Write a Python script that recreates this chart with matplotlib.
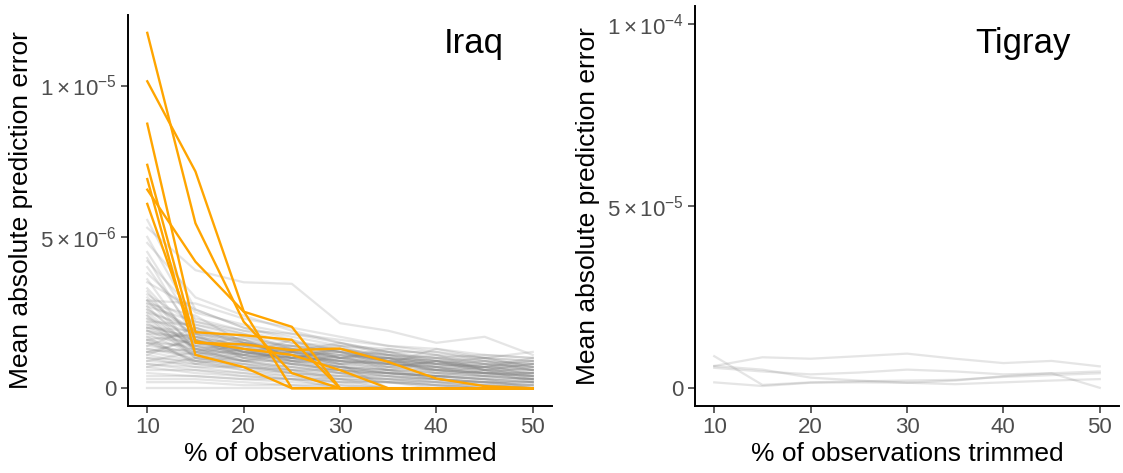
import numpy as np
import matplotlib
matplotlib.use("Agg")
import matplotlib.pyplot as plt

plt.rcParams['font.family'] = ['Liberation Sans', 'DejaVu Sans']
plt.rcParams['mathtext.fontset'] = 'custom'
plt.rcParams['mathtext.rm'] = 'Liberation Sans'
plt.rcParams['mathtext.it'] = 'Liberation Sans:italic'

# % of observations trimmed
trim = [10, 15, 20, 25, 30, 35, 40, 45, 50]

# Iraq, grey lines (units of 1e-6)
iraq_grey = [
    [5.56, 2.6, 2.0, 1.6, 1.2, 0.9, 0.6, 0.4, 0.3],
    [5.3, 3.9, 3.5, 3.45, 2.15, 1.9, 1.5, 1.7, 1.1],
    [5.0, 2.2, 1.8, 1.3, 1.0, 0.8, 0.7, 0.5, 0.5],
    [4.8, 3.0, 2.4, 1.9, 1.5, 1.2, 0.9, 0.6, 0.4],
    [4.5, 2.0, 1.5, 1.2, 0.9, 0.6, 0.3, 0.1, 0.0],
    [4.2, 2.5, 2.1, 1.8, 1.6, 1.4, 1.2, 1.0, 0.9],
    [4.0, 1.8, 1.3, 0.9, 0.5, 0.2, 0.0, 0.0, 0.0],
    [3.8, 2.3, 1.9, 1.5, 1.3, 1.1, 1.0, 0.8, 0.7],
    [3.5, 2.6, 2.0, 1.7, 1.4, 1.3, 1.1, 1.0, 1.2],
    [3.3, 1.6, 1.1, 0.8, 0.6, 0.4, 0.3, 0.2, 0.1],
    [3.1, 2.1, 1.7, 1.4, 1.2, 1.0, 0.9, 0.7, 0.6],
    [2.9, 2.8, 2.3, 2.0, 1.7, 1.4, 1.3, 1.1, 1.0],
    [2.9, 1.9, 1.6, 1.2, 1.0, 0.7, 0.5, 0.4, 0.3],
    [2.8, 2.4, 1.5, 1.1, 0.8, 0.0, 0.0, 0.0, 0.0],
    [2.7, 2.2, 1.9, 1.8, 1.5, 1.2, 1.2, 0.9, 0.8],
    [2.6, 1.5, 1.2, 1.0, 0.7, 0.6, 0.4, 0.3, 0.0],
    [2.5, 2.0, 1.4, 1.3, 1.1, 1.0, 0.8, 0.7, 0.9],
    [2.4, 1.3, 0.9, 0.6, 0.3, 0.0, 0.0, 0.0, 0.0],
    [2.3, 1.8, 1.6, 1.4, 1.3, 1.1, 0.9, 0.8, 0.7],
    [2.2, 2.1, 1.8, 1.5, 1.4, 1.2, 1.0, 1.1, 1.0],
    [2.1, 1.6, 1.3, 1.1, 0.9, 0.8, 0.6, 0.5, 0.4],
    [2.0, 1.4, 1.0, 0.8, 0.6, 0.5, 0.3, 0.2, 0.0],
    [2.0, 1.9, 1.5, 1.3, 1.2, 0.9, 0.8, 0.6, 0.5],
    [1.9, 1.2, 0.9, 0.7, 0.5, 0.3, 0.2, 0.0, 0.0],
    [1.8, 1.7, 1.4, 1.2, 1.0, 1.0, 0.9, 0.7, 0.6],
    [1.8, 1.1, 0.8, 0.5, 0.0, 0.0, 0.0, 0.0, 0.0],
    [1.7, 1.5, 1.3, 1.2, 1.1, 0.9, 0.7, 0.6, 0.8],
    [1.6, 1.3, 1.1, 0.9, 0.8, 0.6, 0.5, 0.4, 0.3],
    [1.5, 1.4, 1.2, 1.0, 0.9, 0.8, 0.7, 0.8, 0.6],
    [1.5, 0.9, 0.6, 0.4, 0.2, 0.0, 0.0, 0.0, 0.0],
    [1.4, 1.2, 1.0, 0.8, 0.7, 0.5, 0.4, 0.3, 0.2],
    [1.3, 1.0, 0.8, 0.7, 0.6, 0.5, 0.4, 0.3, 0.3],
    [1.3, 1.1, 0.9, 0.9, 0.7, 0.6, 0.6, 0.5, 0.4],
    [1.2, 0.9, 0.7, 0.6, 0.4, 0.3, 0.1, 0.0, 0.0],
    [1.2, 1.3, 1.1, 1.0, 0.9, 0.7, 0.6, 0.5, 0.5],
    [1.1, 0.8, 0.6, 0.5, 0.4, 0.3, 0.3, 0.2, 0.1],
    [1.0, 0.9, 0.8, 0.6, 0.5, 0.5, 0.4, 0.3, 0.2],
    [1.0, 0.7, 0.5, 0.3, 0.0, 0.0, 0.0, 0.0, 0.0],
    [0.9, 0.8, 0.7, 0.6, 0.6, 0.5, 0.4, 0.4, 0.3],
    [0.8, 0.6, 0.4, 0.3, 0.2, 0.2, 0.1, 0.0, 0.0],
    [0.8, 0.7, 0.7, 0.5, 0.4, 0.4, 0.3, 0.2, 0.2],
    [0.7, 0.5, 0.4, 0.3, 0.3, 0.2, 0.2, 0.1, 0.1],
    [0.6, 0.6, 0.5, 0.4, 0.3, 0.3, 0.2, 0.2, 0.1],
    [0.5, 0.4, 0.3, 0.2, 0.1, 0.0, 0.0, 0.0, 0.0],
    [0.4, 0.4, 0.3, 0.3, 0.2, 0.2, 0.1, 0.1, 0.0],
    [0.3, 0.3, 0.2, 0.1, 0.0, 0.0, 0.0, 0.0, 0.0],
    [0.2, 0.2, 0.1, 0.1, 0.1, 0.0, 0.0, 0.0, 0.0],
    [0.0, 0.0, 0.0, 0.0, 0.0, 0.0, 0.0, 0.0, 0.0],
    [3.6, 1.4, 1.1, 0.8, 0.6, 0.4, 0.2, 0.1, 0.0],
    [2.7, 1.2, 0.9, 0.7, 0.5, 0.4, 0.3, 0.2, 0.2],
    [3.0, 1.7, 1.4, 1.1, 0.9, 0.8, 0.6, 0.5, 0.4],
    [4.3, 1.6, 1.2, 1.0, 0.7, 0.5, 0.4, 0.3, 0.2],
    [2.2, 1.0, 0.7, 0.5, 0.3, 0.2, 0.1, 0.0, 0.0],
    [1.6, 1.8, 1.5, 1.4, 1.2, 1.1, 1.0, 0.9, 0.8],
    [1.9, 1.6, 1.2, 0.9, 0.7, 0.6, 0.5, 0.5, 0.4],
    [2.9, 1.3, 1.5, 1.1, 1.3, 0.9, 0.8, 1.0, 0.7],
    [1.1, 1.7, 1.2, 1.4, 1.0, 1.1, 0.7, 0.9, 0.6],
    [2.4, 1.0, 1.3, 0.8, 1.1, 0.6, 0.9, 0.5, 0.7],
    [1.4, 2.0, 1.6, 1.0, 1.2, 0.8, 1.0, 0.6, 0.8],
    [3.2, 1.2, 1.6, 1.0, 1.3, 1.0, 0.5, 0.7, 0.3],
    [1.7, 0.8, 1.1, 1.3, 0.8, 0.9, 1.1, 0.6, 0.5],
    [2.6, 1.8, 1.0, 1.2, 1.5, 1.1, 0.8, 0.7, 1.0],
    [0.9, 1.2, 1.4, 0.9, 1.0, 1.2, 0.8, 0.9, 0.6],
    [2.1, 1.5, 1.1, 1.6, 1.0, 0.8, 1.3, 1.0, 0.9],
    [1.2, 1.6, 1.0, 1.2, 1.4, 0.9, 0.6, 0.8, 0.4],
    [2.3, 1.1, 1.3, 1.1, 0.8, 1.0, 0.7, 0.4, 0.5],
    [1.9, 1.4, 1.7, 1.3, 1.0, 1.3, 1.1, 0.8, 0.9],
    [2.8, 1.9, 1.3, 1.0, 1.2, 0.7, 0.9, 1.0, 0.7],
    [1.5, 1.1, 1.5, 1.2, 0.9, 1.0, 0.8, 0.7, 0.5],
    [0.7, 1.0, 0.9, 1.1, 0.8, 0.7, 0.9, 0.6, 0.6],
    [2.0, 1.7, 1.2, 0.9, 1.1, 1.0, 0.6, 0.7, 0.8],
    [1.6, 0.9, 1.2, 1.0, 1.3, 0.8, 0.7, 0.5, 0.3],
    [2.5, 1.3, 0.9, 1.2, 0.7, 0.5, 0.4, 0.6, 0.2],
]

# Iraq, highlighted lines (units of 1e-6)
iraq_orange = [
    [11.74, 5.45, 2.2, 0.5, 0.0, 0.0, 0.0, 0.0, 0.0],
    [10.14, 7.16, 2.55, 0.0, 0.0, 0.0, 0.0, 0.0, 0.0],
    [8.74, 1.85, 1.75, 1.6, 0.0, 0.0, 0.0, 0.0, 0.0],
    [7.38, 1.5, 1.45, 1.26, 1.31, 0.87, 0.32, 0.07, 0.0],
    [6.91, 1.1, 0.7, 0.0, 0.0, 0.0, 0.0, 0.0, 0.0],
    [6.56, 4.18, 2.53, 2.03, 0.0, 0.0, 0.0, 0.0, 0.0],
    [6.09, 1.55, 1.3, 1.1, 0.6, 0.0, 0.0, 0.0, 0.0],
]

# Tigray, grey lines (units of 1e-5)
tigray_grey = [
    [0.87, 0.08, 0.15, 0.18, 0.2, 0.22, 0.3, 0.35, 0.4],
    [0.6, 0.84, 0.8, 0.87, 0.94, 0.8, 0.68, 0.74, 0.59],
    [0.6, 0.5, 0.28, 0.2, 0.14, 0.2, 0.32, 0.4, 0.0],
    [0.15, 0.05, 0.14, 0.15, 0.14, 0.1, 0.15, 0.2, 0.24],
    [0.55, 0.45, 0.37, 0.42, 0.5, 0.45, 0.37, 0.4, 0.45],
]

W, H = 1123, 473
fig = plt.figure(figsize=(W / 100, H / 100), dpi=100)
ax1 = fig.add_axes([128 / W, 1 - 406 / H, 424 / W, 391 / H])
ax2 = fig.add_axes([695 / W, 1 - 406 / H, 424 / W, 400 / H])

grey = '#7f7f7f'
for row in iraq_grey:
    ax1.plot(trim, np.array(row) * 1e-6, color=grey, alpha=0.2, lw=1.6)
for row in iraq_orange:
    ax1.plot(trim, np.array(row) * 1e-6, color='#FFA500', lw=1.7)
for row in tigray_grey:
    ax2.plot(trim, np.array(row) * 1e-5, color=grey, alpha=0.2, lw=1.6)

ax1.set_ylim(-0.587e-6, 12.33e-6)
ax1.set_yticks([0, 5e-6, 1e-5])
ax1.set_yticklabels(['0', r'$5\times10^{-6}$', r'$1\times10^{-5}$'])
ax2.set_ylim(-5e-6, 1.05e-4)
ax2.set_yticks([0, 5e-5, 1e-4])
ax2.set_yticklabels(['0', r'$5\times10^{-5}$', r'$1\times10^{-4}$'])

# panel title sits at a fixed pixel position in each panel
for ax, name, xc in [(ax1, 'Iraq', 474), (ax2, 'Tigray', 1023)]:
    ax.set_xlim(8, 52)
    ax.set_xticks([10, 20, 30, 40, 50])
    for s in ['top', 'right']:
        ax.spines[s].set_visible(False)
    for s in ['left', 'bottom']:
        ax.spines[s].set_linewidth(1.4)
    ax.tick_params(length=5, width=1.1, color='#333333', labelcolor='#4D4D4D',
                   labelsize=16, pad=3)
    ax.set_xlabel('% of observations trimmed', fontsize=19, labelpad=3)
    ax.set_ylabel('Mean absolute prediction error', fontsize=19, labelpad=5)
    fig.text(xc / W, 1 - 43 / H, name, ha='center', va='center', fontsize=25)

fig.savefig('out.png', dpi=100)
